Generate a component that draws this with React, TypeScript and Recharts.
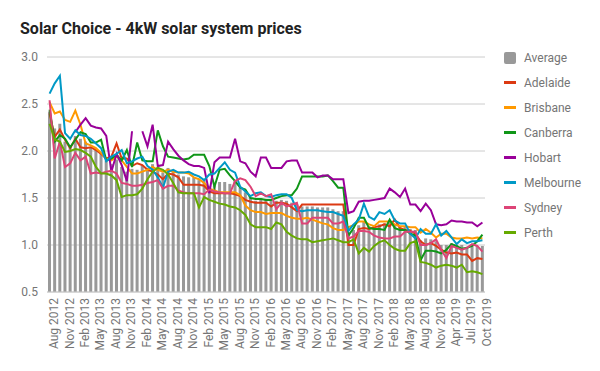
import { ComposedChart, Bar, Line, XAxis, YAxis, CartesianGrid } from "recharts";

const months = [
  "Aug 2012", "Sep 2012", "Oct 2012", "Nov 2012", "Dec 2012",
  "Jan 2013", "Feb 2013", "Mar 2013", "Apr 2013", "May 2013", "Jun 2013", "Jul 2013", "Aug 2013", "Sep 2013", "Oct 2013", "Nov 2013", "Dec 2013",
  "Jan 2014", "Feb 2014", "Mar 2014", "Apr 2014", "May 2014", "Jun 2014", "Jul 2014", "Aug 2014", "Sep 2014", "Oct 2014", "Nov 2014", "Dec 2014",
  "Jan 2015", "Feb 2015", "Mar 2015", "Apr 2015", "May 2015", "Jun 2015", "Jul 2015", "Aug 2015", "Sep 2015", "Oct 2015", "Nov 2015", "Dec 2015",
  "Jan 2016", "Feb 2016", "Mar 2016", "Apr 2016", "May 2016", "Jun 2016", "Jul 2016", "Aug 2016", "Sep 2016", "Oct 2016", "Nov 2016", "Dec 2016",
  "Jan 2017", "Feb 2017", "Mar 2017", "Apr 2017", "May 2017", "Jun 2017", "Jul 2017", "Aug 2017", "Sep 2017", "Oct 2017", "Nov 2017", "Dec 2017",
  "Jan 2018", "Feb 2018", "Mar 2018", "Apr 2018", "May 2018", "Jun 2018", "Jul 2018", "Aug 2018", "Sep 2018", "Oct 2018", "Nov 2018",
  "Jan 2019", "Mar 2019", "Apr 2019", "May 2019", "Jun 2019", "Jul 2019", "Aug 2019", "Sep 2019", "Oct 2019",
];

const average = [
  2.42, 2.24, 2.29, 2.10, 2.06, 2.16, 2.13, 2.10, 2.04, 2.01,
  1.98, 1.90, 1.86, 1.91, 1.83, 1.78, 1.81, 1.80, 1.85, 1.82,
  1.86, 1.83, 1.77, 1.82, 1.80, 1.75, 1.73, 1.72, 1.72, 1.69,
  1.69, 1.63, 1.63, 1.67, 1.67, 1.65, 1.68, 1.61, 1.56, 1.50,
  1.47, 1.50, 1.49, 1.47, 1.47, 1.48, 1.47, 1.45, 1.43, 1.41,
  1.41, 1.41, 1.40, 1.40, 1.40, 1.38, 1.36, 1.36, 1.13, 1.16,
  1.21, 1.25, 1.20, 1.20, 1.22, 1.23, 1.25, 1.22, 1.19, 1.20,
  1.17, 1.16, 1.05, 1.07, 1.06, 1.04, 1.00, 1.00, 1.02, 1.00,
  1.00, 0.98, 0.99, 0.99, 0.99,
];

const adelaide = [
  2.40, 2.15, 2.23, 2.12, 2.03, 2.13, 2.04, 2.03, 2.04, 2.01,
  1.97, 1.92, 1.94, 2.08, 1.92, 1.92, 1.84, 1.87, 1.85, 1.80,
  1.78, 1.75, 1.70, 1.76, 1.75, 1.72, 1.64, 1.64, 1.64, 1.64,
  1.63, 1.57, 1.55, 1.55, 1.55, 1.55, 1.54, 1.52, 1.48, 1.46,
  1.45, 1.45, 1.45, 1.41, 1.45, 1.45, 1.44, 1.40, 1.36, 1.43,
  1.43, 1.43, 1.43, 1.43, 1.43, 1.43, 1.43, 1.43, 1.00, 1.00,
  1.17, 1.18, 1.17, 1.19, 1.20, 1.22, 1.20, 1.27, 1.18, 1.16,
  1.15, 1.12, 1.04, 1.00, 1.02, 0.99, 0.95, 0.92, 0.91, 0.92,
  0.90, 0.90, 0.83, 0.86, 0.85,
];

const brisbane = [
  2.52, 2.40, 2.42, 2.33, 2.31, 2.43, 2.28, 2.08, 2.06, 2.03,
  1.98, 1.92, 1.90, 1.94, 1.90, 1.83, 1.76, 1.76, 1.78, 1.80,
  1.83, 1.80, 1.78, 1.80, 1.78, 1.77, 1.77, 1.76, 1.72, 1.70,
  1.66, 1.60, 1.58, 1.56, 1.56, 1.56, 1.56, 1.53, 1.42, 1.37,
  1.35, 1.35, 1.33, 1.34, 1.34, 1.34, 1.31, 1.29, 1.28, 1.28,
  1.29, 1.27, 1.25, 1.23, 1.22, 1.18, 1.16, 1.16, 1.19, 1.21,
  1.25, 1.25, 1.22, 1.20, 1.25, 1.25, 1.25, 1.22, 1.20, 1.20,
  1.19, 1.19, 1.13, 1.17, 1.13, 1.08, 1.12, 1.12, 1.08, 1.07,
  1.07, 1.08, 1.07, 1.08, 1.07,
];

const canberra = [
  2.44, 2.10, 2.17, 2.13, 2.04, 2.12, 2.20, 2.18, 2.09, 2.09,
  2.12, 1.90, 1.92, 1.96, 1.90, 2.01, 1.83, 2.09, 1.90, 1.89,
  1.89, 2.22, 2.05, 1.94, 1.93, 1.92, 1.91, 1.92, 1.96, 1.96,
  1.96, 1.84, 1.62, 1.80, 1.81, 1.74, 1.68, 1.61, 1.59, 1.50,
  1.49, 1.49, 1.48, 1.48, 1.50, 1.52, 1.53, 1.53, 1.60, 1.73,
  1.73, 1.73, 1.73, 1.73, 1.74, 1.68, 1.61, 1.61, 1.10, 1.18,
  1.29, 1.29, 1.18, 1.17, 1.17, 1.16, 1.27, 1.18, 1.16, 1.16,
  1.12, 1.10, 0.84, 0.94, 0.94, 0.93, 0.91, 0.95, 1.01, 0.99,
  0.96, 0.97, 0.99, 1.04, 1.11,
];

const hobart = [
  null, null, null, null, null, 2.20, 2.28, 2.35, 2.27, 2.25,
  2.24, 2.16, 1.78, 1.97, 1.85, 1.68, 2.21, null, 2.21, 2.05,
  2.28, 1.84, 1.85, 2.10, 2.02, 1.95, 1.90, 1.86, 1.84, 1.84,
  1.82, 1.55, 1.88, 1.93, 1.93, 1.93, 2.13, 1.89, 1.87, 1.78,
  1.73, 1.93, 1.93, 1.82, 1.82, 1.82, 1.89, 1.90, 1.90, 1.77,
  1.77, 1.77, 1.72, 1.74, 1.74, 1.70, 1.70, 1.70, 1.34, 1.36,
  1.46, 1.47, 1.47, 1.48, 1.49, 1.50, 1.60, 1.56, 1.51, 1.60,
  1.43, 1.43, 1.36, 1.44, 1.37, 1.22, 1.21, 1.22, 1.26, 1.25,
  1.25, 1.24, 1.24, 1.20, 1.24,
];

const melbourne = [
  2.61, 2.72, 2.80, 2.19, 2.13, 2.22, 2.17, 2.16, 2.13, 2.08,
  2.03, 1.89, 1.94, 1.97, 2.01, 1.87, 1.89, 1.92, 1.94, 1.84,
  1.80, 1.72, 1.61, 1.78, 1.80, 1.77, 1.77, 1.78, 1.75, 1.73,
  1.69, 1.75, 1.76, 1.82, 1.88, 1.80, 1.77, 1.62, 1.57, 1.52,
  1.55, 1.56, 1.52, 1.51, 1.53, 1.54, 1.54, 1.50, 1.37, 1.36,
  1.37, 1.37, 1.37, 1.36, 1.35, 1.35, 1.33, 1.31, 1.15, 1.22,
  1.27, 1.44, 1.30, 1.27, 1.35, 1.33, 1.37, 1.26, 1.23, 1.23,
  1.12, 1.07, 1.17, 1.12, 1.12, 1.22, 1.10, 1.15, 1.08, 1.01,
  1.06, 1.02, 1.04, 1.04, 1.05,
];

const sydney = [
  2.54, 1.92, 2.10, 1.83, 1.87, 1.98, 1.90, 1.94, 1.76, 1.77,
  1.76, 1.78, 1.79, 1.76, 1.66, 1.65, 1.63, 1.63, 1.64, 1.66,
  1.67, 1.69, 1.60, 1.63, 1.63, 1.58, 1.56, 1.55, 1.55, 1.55,
  1.54, 1.59, 1.57, 1.56, 1.55, 1.55, 1.68, 1.71, 1.69, 1.62,
  1.52, 1.55, 1.52, 1.54, 1.38, 1.45, 1.41, 1.43, 1.45, 1.23,
  1.23, 1.29, 1.29, 1.29, 1.29, 1.23, 1.23, 1.25, 1.07, 1.09,
  1.15, 1.15, 1.14, 1.10, 1.08, 1.07, 1.07, 1.09, 1.09, 1.14,
  1.14, 1.14, 1.00, 1.00, 1.02, 1.06, 0.95, 0.86, 0.99, 0.97,
  0.95, 0.97, 1.01, 0.99, 0.93,
];

const perth = [
  2.29, 2.12, 2.10, 1.99, 2.00, 2.02, 2.01, 1.98, 1.94, 1.83,
  1.76, 1.76, 1.74, 1.69, 1.51, 1.53, 1.53, 1.54, 1.60, 1.70,
  1.78, 1.82, 1.80, 1.75, 1.66, 1.56, 1.55, 1.55, 1.55, 1.40,
  1.51, 1.48, 1.46, 1.44, 1.43, 1.41, 1.40, 1.37, 1.32, 1.22,
  1.19, 1.19, 1.19, 1.17, 1.24, 1.22, 1.14, 1.10, 1.07, 1.06,
  1.06, 1.03, 1.04, 1.05, 1.06, 1.07, 1.05, 1.03, 1.03, 1.06,
  0.91, 0.97, 0.93, 0.99, 1.03, 1.05, 1.00, 0.96, 0.94, 0.94,
  1.02, 1.04, 0.82, 0.81, 0.79, 0.76, 0.78, 0.79, 0.78, 0.76,
  0.79, 0.71, 0.72, 0.71, 0.69,
];

const yTicks = [0.5, 1.0, 1.5, 2.0, 2.5, 3.0];

const CITIES = [
  { name: "Adelaide", color: "#dc3912", values: adelaide },
  { name: "Brisbane", color: "#ff9900", values: brisbane },
  { name: "Canberra", color: "#109618", values: canberra },
  { name: "Hobart", color: "#990099", values: hobart },
  { name: "Melbourne", color: "#0099c6", values: melbourne },
  { name: "Sydney", color: "#dd4477", values: sydney },
  { name: "Perth", color: "#66aa00", values: perth },
];

const data = months.map((month, i) => {
  const row: Record<string, string | number | null> = { month, Average: average[i] };
  CITIES.forEach((c) => {
    row[c.name] = c.values[i];
  });
  return row;
});

const textGrey = "#757575";

const Legend = () => (
  <div style={{ position: "absolute", left: 504, top: 45 }}>
    <div style={{ display: "flex", alignItems: "center", height: 25 }}>
      <div style={{ width: 12, height: 12, borderRadius: 2, background: "#999999" }} />
      <span style={{ marginLeft: 8, fontSize: 12, color: textGrey }}>Average</span>
    </div>
    {CITIES.map((c) => (
      <div key={c.name} style={{ display: "flex", alignItems: "center", height: 25 }}>
        <div style={{ width: 12, height: 3, background: c.color }} />
        <span style={{ marginLeft: 8, fontSize: 12, color: textGrey }}>{c.name}</span>
      </div>
    ))}
  </div>
);

export default function App() {
  return (
    <div
      style={{
        position: "absolute",
        left: 0,
        top: 0,
        width: 600,
        height: 371,
        background: "#fff",
        fontFamily: "Roboto, sans-serif",
      }}
    >
      <div
        style={{
          position: "absolute",
          left: 20,
          top: 19,
          fontSize: 16,
          fontWeight: 700,
          color: "#222",
          whiteSpace: "nowrap",
        }}
      >
        Solar Choice - 4kW solar system prices
      </div>
      <ComposedChart
        width={600}
        height={371}
        data={data}
        margin={{ top: 57, right: 115, bottom: 9, left: 0 }}
      >
        <CartesianGrid vertical={false} stroke="#cccccc" />
        <XAxis
          dataKey="month"
          interval={2}
          angle={-90}
          textAnchor="end"
          height={70}
          tickLine={false}
          tickSize={4}
          tickMargin={2}
          axisLine={{ stroke: "#cccccc" }}
          tick={{ fontSize: 12, fill: textGrey }}
        />
        <YAxis
          type="number"
          domain={[0.5, 3]}
          ticks={yTicks}
          tickFormatter={(v: number) => v.toFixed(1)}
          axisLine={false}
          tickLine={false}
          width={47}
          tickSize={6}
          tickMargin={3}
          tick={{ fontSize: 12, fill: textGrey }}
        />
        <Bar dataKey="Average" fill="#999999" barSize={3} isAnimationActive={false} />
        {CITIES.map((c) => (
          <Line
            key={c.name}
            type="linear"
            dataKey={c.name}
            stroke={c.color}
            strokeWidth={2}
            dot={false}
            activeDot={false}
            isAnimationActive={false}
          />
        ))}
      </ComposedChart>
      <Legend />
    </div>
  );
}
